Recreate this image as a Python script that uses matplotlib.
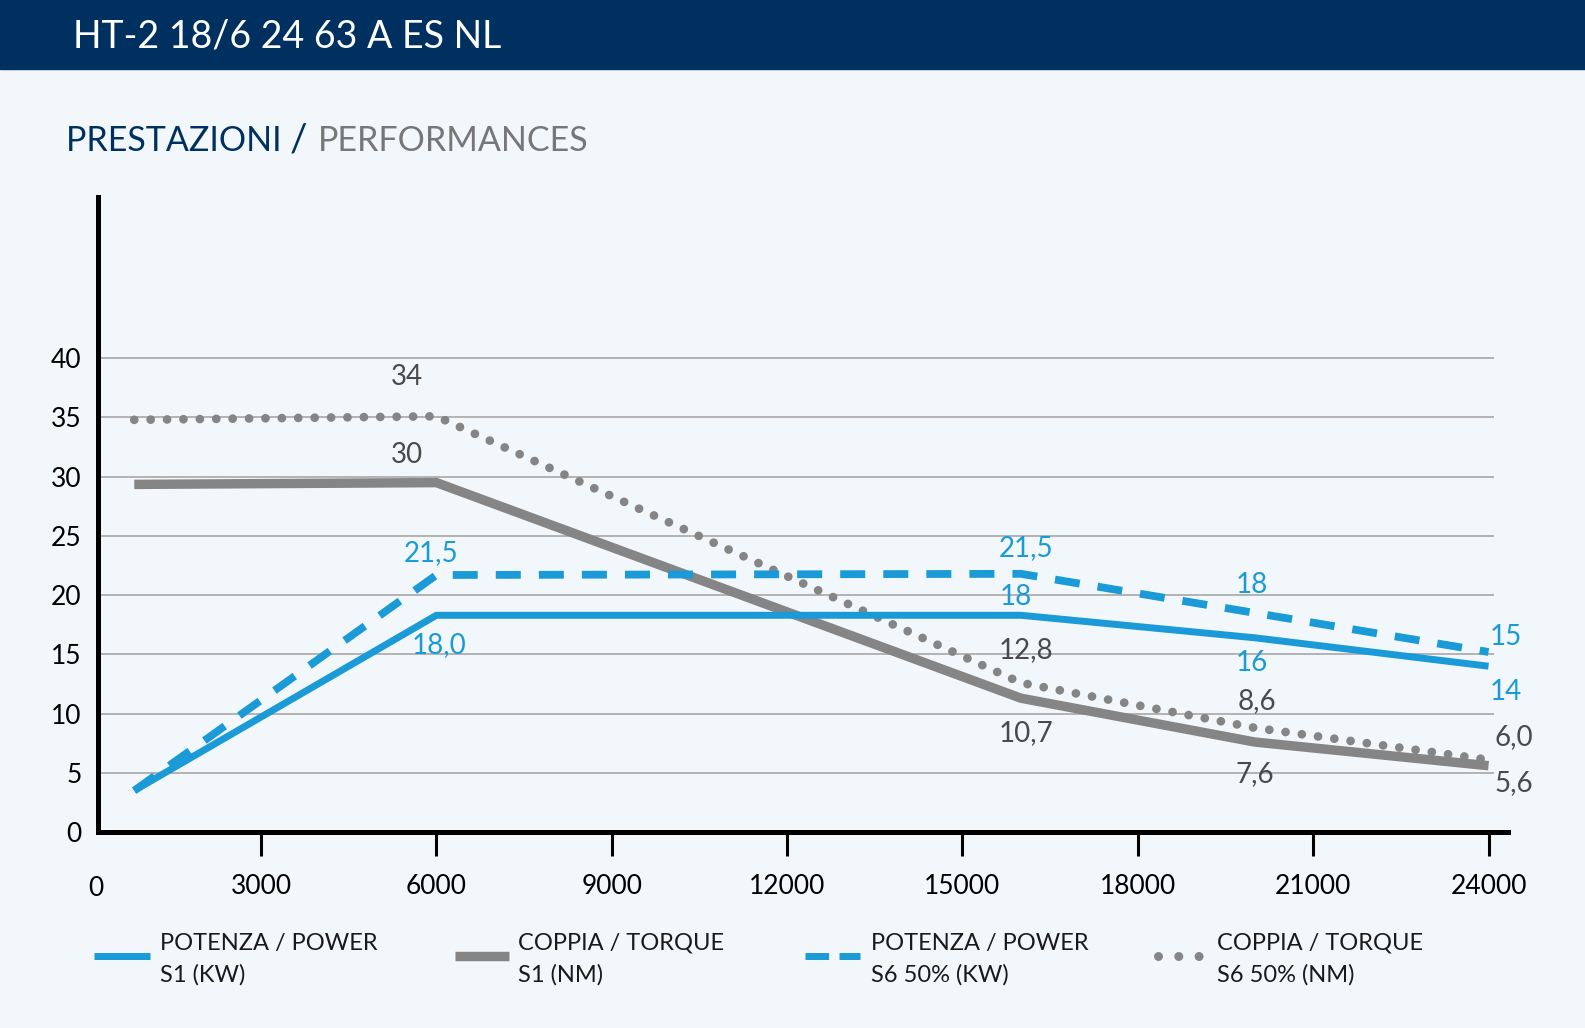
import matplotlib.pyplot as plt
from matplotlib.lines import Line2D
from matplotlib.patches import Rectangle

plt.rcParams['font.family'] = ['Lato', 'DejaVu Sans']
plt.rcParams['lines.scale_dashes'] = False

# ======================================================
# Data
# ======================================================

rpm = [830, 6000, 16000, 20000, 24000]
power_s1 = [3.5, 18.3, 18.3, 16.4, 14.0]
torque_s1 = [29.35, 29.5, 11.3, 7.6, 5.6]
power_s6 = [3.5, 21.7, 21.8, 18.5, 15.2]
torque_s6 = [34.8, 35.1, 12.6, 8.8, 6.1]

x_ticks = [3000, 6000, 9000, 12000, 15000, 18000, 21000, 24000]
y_ticks = [0, 5, 10, 15, 20, 25, 30, 35, 40]

# value labels shown on the chart, one per point (None = no label)
labels_power_s1 = [None, "18,0", "18", "16", "14"]
labels_torque_s1 = [None, "30", "10,7", "7,6", "5,6"]
labels_power_s6 = [None, "21,5", "21,5", "18", "15"]
labels_torque_s6 = [None, "34", "12,8", "8,6", "6,0"]

legend_labels = [
    "POTENZA / POWER\nS1 (KW)",
    "COPPIA / TORQUE\nS1 (NM)",
    "POTENZA / POWER\nS6 50% (KW)",
    "COPPIA / TORQUE\nS6 50% (NM)",
]

# ======================================================
# Style
# ======================================================

W, H = 1585, 1028
S = 1.011  # layout measured on a slightly reduced view
BG = "#f2f7fb"
NAVY = "#00305f"
BLUE = "#1a9ad7"
GREY = "#858585"
LABEL_GREY = "#4a4a4a"


def fx(px):
    return px * S / W


def fy(py):
    return 1 - py * S / H


fig = plt.figure(figsize=(W / 100, H / 100), dpi=100, facecolor=BG)

# header band
fig.add_artist(Rectangle((0, fy(68)), 1, 1 - fy(68), transform=fig.transFigure,
                         color=NAVY, zorder=0))
fig.text(fx(72), fy(36), "HT-2 18/6 24 63 A ES NL", color="white",
         fontsize=27, va="center", ha="left")

t1 = fig.text(fx(65), fy(139), "PRESTAZIONI ", color=NAVY, fontsize=24.5,
              va="center", ha="left")
fig.canvas.draw()
bb = t1.get_window_extent()
t2 = fig.text(bb.x1 / W, fy(139), "/ ", color=NAVY, fontsize=28,
              va="center", ha="left")
bb2 = t2.get_window_extent()
fig.text(bb2.x1 / W, fy(139), "PERFORMANCES", color="#777777", fontsize=24.5,
         va="center", ha="left")

# ======================================================
# Axes
# ======================================================

ax = fig.add_axes([fx(97), fy(823), fx(1492) - fx(97), fy(195) - fy(823)])
ax.set_facecolor(BG)
ax.set_xlim(211, 24340)
ax.set_ylim(0, 53.6)

for s in ["top", "right"]:
    ax.spines[s].set_visible(False)
for s in ["left", "bottom"]:
    ax.spines[s].set_linewidth(3.6)
    ax.spines[s].set_color("black")
    ax.spines[s].set_capstyle("projecting")

ax.hlines(y_ticks[1:], 211, 24090, color="#b3b3b3", lw=1.4, zorder=1)

ax.set_xticks(x_ticks)
ax.set_xticklabels([str(t) for t in x_ticks])
ax.set_yticks(y_ticks)
ax.set_yticklabels([str(t) for t in y_ticks])
ax.tick_params(axis="x", length=17, width=2.2, pad=13, labelsize=19,
               colors="black", direction="out")
ax.tick_params(axis="y", length=0, pad=12, labelsize=19, colors="black")
ax.text(211 - 45, -4.8, "0", fontsize=19, ha="center", va="center",
        color="black")

# ======================================================
# Lines
# ======================================================

ax.plot(rpm, torque_s1, color=GREY, lw=6.8, solid_capstyle="butt",
        solid_joinstyle="miter", zorder=3, clip_on=False)
ax.plot(rpm, torque_s6, color=GREY, lw=6.3, linestyle=(0, (0.01, 11.8)),
        dash_capstyle="round", zorder=4, clip_on=False)
ax.plot(rpm, power_s1, color=BLUE, lw=5.0, solid_capstyle="butt",
        solid_joinstyle="miter", zorder=5, clip_on=False)
ax.plot(rpm, power_s6, color=BLUE, lw=5.6, linestyle=(0, (18, 13)),
        dash_capstyle="butt", zorder=6, clip_on=False)

# ======================================================
# Value labels (offsets in pixels)
# ======================================================

offsets_power_s1 = [None, (3, -30), (-5, 18), (-3, -25), (17, -26)]
offsets_torque_s1 = [None, (-30, 28), (5, -35), (0, -32), (25, -17)]
offsets_power_s6 = [None, (-5, 22), (5, 26), (-3, 28), (17, 15)]
offsets_torque_s6 = [None, (-30, 39), (5, 33), (2, 27), (25, 23)]

series = [
    (power_s1, labels_power_s1, offsets_power_s1, BLUE),
    (torque_s1, labels_torque_s1, offsets_torque_s1, LABEL_GREY),
    (power_s6, labels_power_s6, offsets_power_s6, BLUE),
    (torque_s6, labels_torque_s6, offsets_torque_s6, LABEL_GREY),
]

for values, texts, offs, col in series:
    for x, y, t, o in zip(rpm, values, texts, offs):
        if t is None:
            continue
        ax.annotate(t, (x, y), xytext=o, textcoords="offset pixels",
                    ha="center", va="center", fontsize=20, color=col,
                    annotation_clip=False, zorder=7)

# ======================================================
# Legend (drawn by hand)
# ======================================================

leg_y = 946

fig.add_artist(Line2D([fx(93), fx(148)], [fy(leg_y)] * 2, color=BLUE, lw=5.0,
                      solid_capstyle="butt", transform=fig.transFigure))
fig.add_artist(Line2D([fx(450), fx(503)], [fy(leg_y)] * 2, color=GREY, lw=6.8,
                      solid_capstyle="butt", transform=fig.transFigure))
fig.add_artist(Line2D([fx(796), fx(851)], [fy(leg_y)] * 2, color=BLUE, lw=5.0,
                      linestyle=(0, (17, 7.5)), dash_capstyle="butt",
                      transform=fig.transFigure))
fig.add_artist(Line2D([fx(1145), fx(1186)], [fy(leg_y)] * 2, color=GREY,
                      lw=6.5, linestyle=(0, (0.01, 14.6)), dash_capstyle="round",
                      transform=fig.transFigure))

text_x = [158, 512, 862, 1204]
for tx, lab in zip(text_x, legend_labels):
    fig.text(fx(tx), fy(949), lab, fontsize=17, color="#1a1a1a",
             ha="left", va="center", linespacing=1.6)

plt.savefig("out.png", dpi=100, facecolor=BG)
